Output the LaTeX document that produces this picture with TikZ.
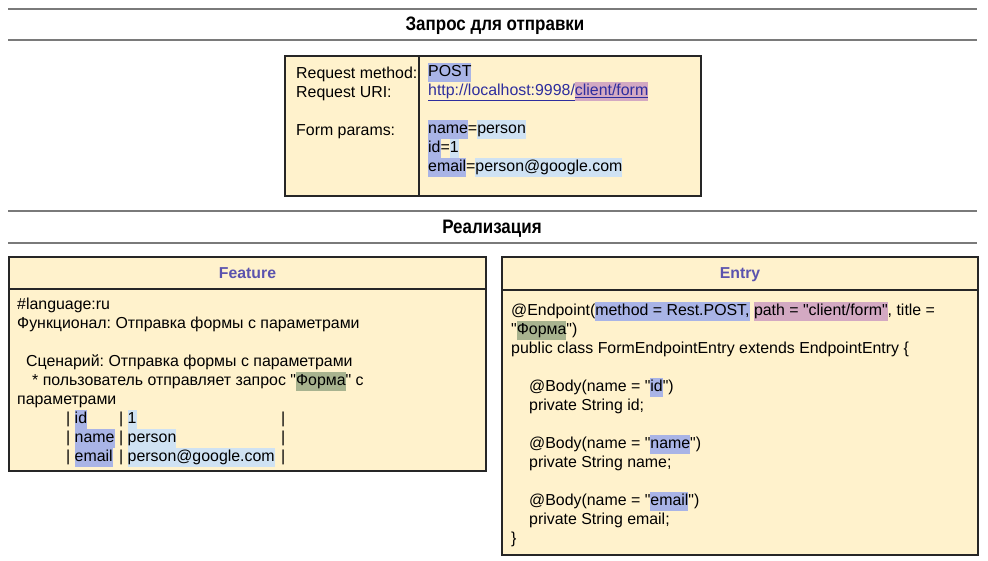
\documentclass[tikz,border=0pt]{standalone}
\usepackage{fontspec}
\setmainfont{Liberation Sans}[Ligatures=TeXOff]
\newfontfamily\headfont[FakeStretch=0.87]{Liberation Sans}
\frenchspacing

\definecolor{boxfill}{HTML}{FFF2CC}
\definecolor{boxline}{HTML}{262626}
\definecolor{rulegray}{HTML}{7A7A7A}
\definecolor{titleviolet}{HTML}{5B53AE}
\definecolor{hlkey}{HTML}{A9B4E6}
\definecolor{hlval}{HTML}{CFE2F3}
\definecolor{hlpath}{HTML}{D3A9C2}
\definecolor{hlname}{HTML}{A8B38F}
\definecolor{linkblue}{HTML}{2E2E9E}

% straight double quote
\newcommand\q{\symbol{34}}
% highlighted run of text, as tall as one line
\newcommand\hl[2]{{\setlength{\fboxsep}{0pt}\colorbox{#1}{\strut#2}}}
% horizontal indent in pt
\newcommand\ind[1]{\hspace*{#1pt}}
% one row of the gherkin data table
\newcommand\trow[2]{\ind{49}\makebox[53pt][l]{|\ \hl{hlkey}{#1}}\makebox[162pt][l]{|\ \hl{hlval}{#2}}|}

\tikzset{
  section rule/.style={draw=rulegray, line width=2pt},
  headline/.style={font=\headfont\bfseries\fontsize{19.5}{22}\selectfont, anchor=base, inner sep=0pt},
  panel/.style={draw=boxline, fill=boxfill, line width=1.2pt},
  paneltitle/.style={font=\bfseries\fontsize{15.8}{19}\selectfont, text=titleviolet, anchor=base, inner sep=0pt},
  codetext/.style={font=\fontsize{15.9}{19}\selectfont, anchor=north west, inner sep=0pt, align=left},
}

\begin{document}
\begin{tikzpicture}[x=1pt, y=-1pt]
\useasboundingbox (0,0) rectangle (988,561);

% --- section: request ---
\draw[section rule] (8,9) -- (977,9);
\draw[section rule] (8,40) -- (977,40);
\node[headline] (reqhead) at (495,31) {Запрос для отправки};

\draw[panel] (285,56) rectangle (701,196);
\draw[boxline, line width=1.2pt] (419,56) -- (419,196);
\node[codetext] (reqlabels) at (296,65.2) {%
\strut Request method:\\
\strut Request URI:\\
\strut\\
\strut Form params:};
\node[codetext] (reqvalues) at (428,62.7) {%
\hl{hlkey}{POST}\\
{\color{linkblue}\strut\underline{http://localhost:9998/}\hl{hlpath}{\underline{client/form}}}\\
\strut\\
\hl{hlkey}{name}=\hl{hlval}{person}\\
\hl{hlkey}{id}=\hl{hlval}{1}\\
\hl{hlkey}{email}=\hl{hlval}{person@google.com}};

% --- section: implementation ---
\draw[section rule] (8,211) -- (977,211);
\draw[section rule] (8,243) -- (977,243);
\node[headline] (implhead) at (492,233.5) {Реализация};

% feature file
\draw[panel] (9,257) rectangle (486,471);
\draw[boxline, line width=1.2pt] (9,289) -- (486,289);
\node[paneltitle] (feattitle) at (247.5,279) {Feature};
\node[codetext] (feattext) at (17,295.7) {%
\strut\#language:ru\\
\strut Функционал: Отправка формы с параметрами\\
\strut\\
\strut\ind{9}Сценарий: Отправка формы с параметрами\\
\strut\ind{15}* пользователь отправляет запрос \q\hl{hlname}{Форма}\q{} с\\
\strut параметрами\\
\strut\trow{id}{1}\\
\strut\trow{name}{person}\\
\strut\trow{email}{person@google.com}};

% entry class
\draw[panel] (502,257) rectangle (978,555);
\draw[boxline, line width=1.2pt] (502,290) -- (978,290);
\node[paneltitle] (entrytitle) at (740,279) {Entry};
\node[codetext] (entrytext) at (511,301.7) {%
\strut @Endpoint(\hl{hlkey}{method = Rest.POST,} \hl{hlpath}{path = \q client/form\q}, title =\\
\strut\q\hl{hlname}{Форма}\q)\\
\strut public class FormEndpointEntry extends EndpointEntry \{\\
\strut\\
\strut\ind{18}@Body(name = \q\hl{hlkey}{id}\q)\\
\strut\ind{18}private String id;\\
\strut\\
\strut\ind{18}@Body(name = \q\hl{hlkey}{name}\q)\\
\strut\ind{18}private String name;\\
\strut\\
\strut\ind{18}@Body(name = \q\hl{hlkey}{email}\q)\\
\strut\ind{18}private String email;\\
\strut\}};
\end{tikzpicture}
\end{document}
